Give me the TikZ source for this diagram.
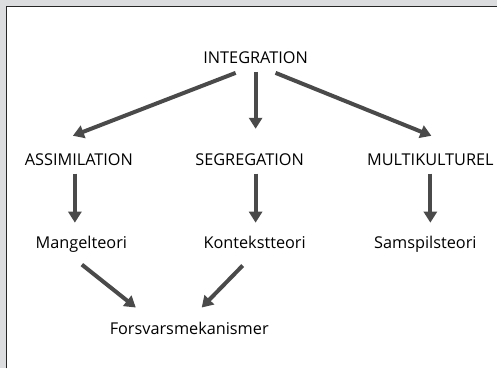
\documentclass[tikz,border=0pt]{standalone}
\usepackage{fontspec}
\setmainfont{Open Sans}
\usetikzlibrary{arrows.meta}
\definecolor{bggray}{HTML}{DCDDDE}
\definecolor{arrgray}{HTML}{4A4A4A}
\tikzset{
  lbl/.style={inner sep=0pt, anchor=base, font=\fontsize{16.3}{18}\selectfont, text=black},
  arr/.style={draw=arrgray, line width=4pt, -{Triangle[width=13pt,length=11pt]}}
}
\begin{document}
\begin{tikzpicture}[x=1pt,y=-1pt]
\fill[bggray] (0,0) rectangle (498,369);
\fill[white] (6,6) rectangle (498,369);
\draw[line width=1.5pt, black!85] (6.5,369) -- (6.5,6.5) -- (498,6.5);
\useasboundingbox (0,0) rectangle (498,369);
\node[lbl] (int) at (256,64) {INTEGRATION};
\node[lbl] (ass) at (79,166) {ASSIMILATION};
\node[lbl] (seg) at (250,166) {SEGREGATION};
\node[lbl] (mul) at (431,166) {MULTIKULTUREL};
\node[lbl] (man) at (81.5,249) {Mangelteori};
\node[lbl] (kon) at (255,249) {Kontekstteori};
\node[lbl] (sam) at (426,249) {Samspilsteori};
\node[lbl] (for) at (189.5,335) {Forsvarsmekanismer};
\coordinate (i1) at (236,73); \coordinate (a1) at (73,136);
\coordinate (i2) at (256,72); \coordinate (s1) at (256,129);
\coordinate (i3) at (276,73); \coordinate (m1) at (432,136);
\draw[arr] (i1) -- (a1);
\draw[arr] (i2) -- (s1);
\draw[arr] (i3) -- (m1);
\coordinate (a2) at (75,174); \coordinate (ma1) at (75,223);
\coordinate (s2) at (256,174); \coordinate (k1) at (256,223);
\coordinate (m2) at (431,174); \coordinate (sa1) at (431,223);
\draw[arr] (a2) -- (ma1);
\draw[arr] (s2) -- (k1);
\draw[arr] (m2) -- (sa1);
\coordinate (ma2) at (82,265); \coordinate (f1) at (136,308);
\coordinate (k2) at (243,266); \coordinate (f2) at (202,308);
\draw[arr] (ma2) -- (f1);
\draw[arr] (k2) -- (f2);
\end{tikzpicture}
\end{document}
